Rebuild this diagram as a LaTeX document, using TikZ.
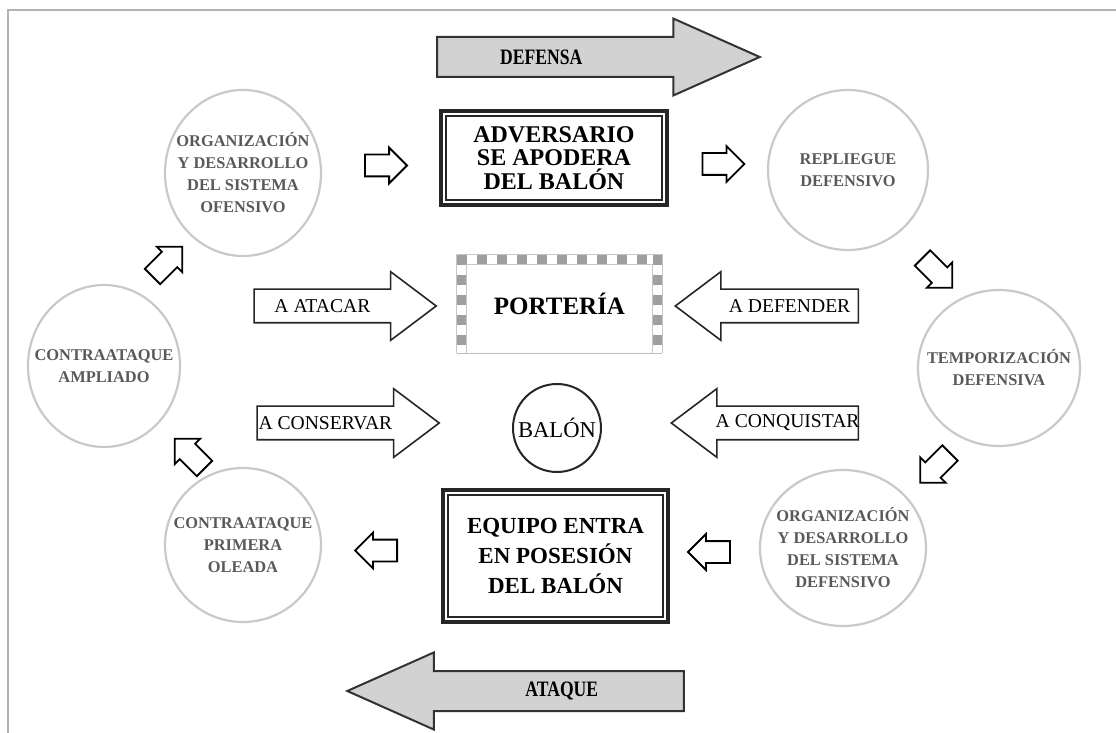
\documentclass[tikz,border=0pt]{standalone}
\usepackage{fontspec}
\usepackage{graphicx}
\setmainfont{Liberation Serif}
\usetikzlibrary{shapes.geometric,shapes.arrows,calc}

\begin{document}
\begin{tikzpicture}[x=0.5pt, y=-0.5pt,
    phase/.style={ellipse, draw=gray!42, line width=1.1pt, inner sep=0pt},
    phasetext/.style={font=\bfseries\fontsize{8.2}{11}\selectfont, text=black!65, align=center},
    moment/.style={rectangle, draw=black!85, line width=2pt, inner sep=0pt, align=center, font=\bfseries\fontsize{12}{11.7}\selectfont},
    hollow/.style={single arrow, draw=black, line width=0.9pt, fill=white, inner xsep=0pt, inner ysep=5pt, minimum height=21pt, single arrow head extend=3.5pt},
    pointer/.style={single arrow, draw=black!85, line width=0.8pt, fill=white, inner xsep=0pt, inner ysep=8pt, text height=0pt, text depth=0pt, single arrow head extend=8.75pt, single arrow tip angle=74},
    pointertext/.style={font=\fontsize{9.8}{10}\selectfont},
    flow/.style={single arrow, draw=black!80, line width=1pt, fill=gray!35, inner xsep=0pt, inner ysep=9.5pt, text height=0pt, text depth=0pt, single arrow head extend=9.25pt, single arrow tip angle=48},
    flowtext/.style={font=\bfseries\fontsize{11}{12}\selectfont}]
  \useasboundingbox (0,0) rectangle (1116,733);
  % frame
  \draw[gray!60, line width=1pt] (8,733) -- (8,10) -- (1116,10);
  % big arrows
  \node[flow, text width=137.8pt, label={[flowtext, xshift=-17.4pt]center:{\scalebox{0.8}[1]{DEFENSA}}}] (defensa) at (576,57) {};
  \node[flow, text width=144.8pt, shape border rotate=180, label={[flowtext, xshift=11.9pt]center:{\scalebox{0.8}[1]{ATAQUE}}}] (ataque) at (538,691) {};
  % phases
  \node[phase, minimum width=78pt, minimum height=83pt, label={[phasetext]center:{ORGANIZACIÓN\\Y DESARROLLO\\DEL SISTEMA\\OFENSIVO}}] (ofensivo) at (243,173) {};
  \node[phase, minimum width=80pt, minimum height=80pt, label={[phasetext]center:{REPLIEGUE\\DEFENSIVO}}] (repliegue) at (848,170) {};
  \node[phase, minimum width=81pt, minimum height=78pt, label={[phasetext]center:{TEMPORIZACIÓN\\DEFENSIVA}}] (temporizacion) at (999,368) {};
  \node[phase, minimum width=83pt, minimum height=78pt, label={[phasetext]center:{ORGANIZACIÓN\\Y DESARROLLO\\DEL SISTEMA\\DEFENSIVO}}] (defensivo) at (843,548) {};
  \node[phase, minimum width=78pt, minimum height=77pt, label={[phasetext]center:{CONTRAATAQUE\\PRIMERA\\OLEADA}}] (oleada) at (243,545) {};
  \node[phase, minimum width=76pt, minimum height=81pt, label={[phasetext]center:{CONTRAATAQUE\\AMPLIADO}}] (ampliado) at (104,366) {};
  % moments
  \node[moment, minimum width=113pt, minimum height=47pt] (adversario) at (554,158) {ADVERSARIO\\SE APODERA\\DEL BALÓN};
  \draw[black!85, line width=0.8pt] ([shift={(7,7)}]adversario.north west) rectangle ([shift={(-7,-7)}]adversario.south east);
  \node[moment, minimum width=112.5pt, minimum height=66pt, font=\bfseries\fontsize{11.5}{15}\selectfont] (equipo) at (555.5,556) {EQUIPO ENTRA\\EN POSESIÓN\\DEL BALÓN};
  \draw[black!85, line width=0.8pt] ([shift={(7,7)}]equipo.north west) rectangle ([shift={(-7,-7)}]equipo.south east);
  % goal
  \node[minimum width=102.5pt, minimum height=49pt, inner sep=0pt, font=\bfseries\fontsize{12.5}{13}\selectfont] (porteria) at (559.5,304) {PORTERÍA};
  \path ([shift={(5,0)}]porteria.south west) coordinate (p1)
        ([shift={(5,5)}]porteria.north west) coordinate (p2)
        ([shift={(-5,5)}]porteria.north east) coordinate (p3)
        ([shift={(-5,0)}]porteria.south east) coordinate (p4);
  \draw[gray!45, line width=5.6pt] (p1) -- (p2) -- (p3) -- (p4);
  \draw[white, line width=4.6pt] (p1) -- (p2) -- (p3) -- (p4);
  \draw[gray!75, line width=4.6pt, line cap=rect, dash pattern=on 0.4pt off 9.6pt] (p2) -- (p1) (p2) -- (p3) (p3) -- (p4);
  \draw[gray!50, line width=0.6pt] (porteria.south west) -- (porteria.south east);
  \node[circle, draw=black!85, line width=1pt, minimum size=44pt, inner sep=0pt, font=\fontsize{11.3}{12}\selectfont] (balon) at (557,428) {BALÓN};
  % labelled arrows
  \node[pointer, text width=79.1pt, label={[pointertext, xshift=-5.8pt]center:A ATACAR}] (atacar) at (334,306) {};
  \node[pointer, text width=79.6pt, shape border rotate=180, label={[pointertext, xshift=5.8pt]center:A DEFENDER}] (defender) at (778,306) {};
  \node[pointer, text width=79.1pt, label={[pointertext, xshift=-5.8pt]center:A CONSERVAR}] (conservar) at (337,423) {};
  \node[pointer, text width=81.6pt, shape border rotate=180, label={[pointertext, xshift=5.8pt]center:A CONQUISTAR}] (conquistar) at (776,423) {};
  % cycle arrows
  \node[hollow] (h1) at ($(ofensivo.east)!.5!(adversario.west)$) {};
  \node[hollow] (h2) at ($(adversario.east)!.5!(repliegue.west)$) {};
  \node[hollow, rotate=-45] (h3) at ($(repliegue)!.5!(temporizacion)+(10,0)$) {};
  \node[hollow, rotate=-135] (h4) at ($(temporizacion)!.5!(defensivo)+(18,6)$) {};
  \node[hollow, rotate=180] (h5) at ($(defensivo.west)!.5!(equipo.east)$) {};
  \node[hollow, rotate=180] (h6) at ($(equipo.west)!.5!(oleada.east)$) {};
  \node[hollow, rotate=135] (h7) at ($(oleada)!.5!(ampliado)+(20,2)$) {};
  \node[hollow, rotate=45] (h8) at ($(ampliado)!.5!(ofensivo)+(-10,-4)$) {};
\end{tikzpicture}
\end{document}
